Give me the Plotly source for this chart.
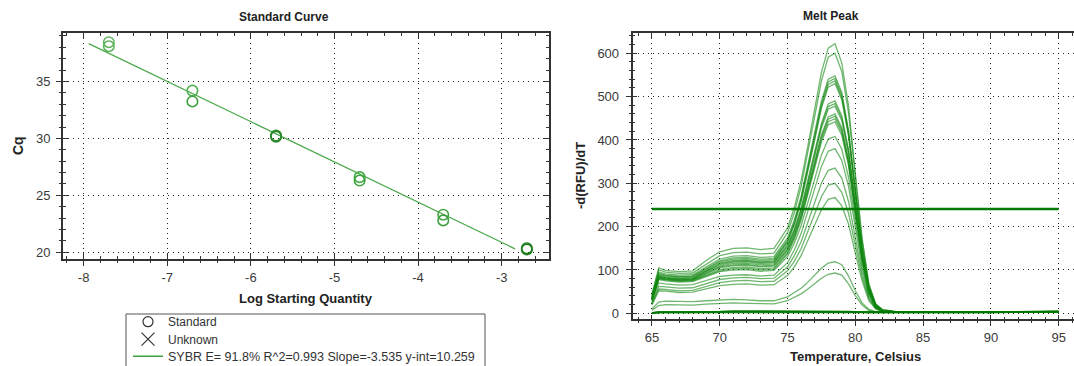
import plotly.graph_objects as go

# ---------------- Standard curve data ----------------
log_quantity = [-7.699, -7.699, -6.699, -6.699, -5.699, -5.699,
                -4.699, -4.699, -3.699, -3.699, -2.699, -2.699]
cq_values = [38.45, 38.1, 34.2, 33.25, 30.25, 30.15,
             26.6, 26.3, 23.3, 22.8, 20.35, 20.25]
point_colors = ["#62b862", "#5cb35c", "#55b055", "#3f9f3f", "#2e8b2e", "#2a872a",
                "#48aa48", "#3da33d", "#46a846", "#3f9f3f", "#1f7f1f", "#1f7f1f"]
fit_slope = -3.535
fit_intercept = 10.259
fit_x_span = [-7.94, -2.84]
std_x_ticks = [-8, -7, -6, -5, -4, -3]
std_x_ticktext = ["-8", "-7", "-6", "-5", "-4", "-3"]
std_y_ticks = [20, 25, 30, 35]
legend_fit_text = "SYBR\u00a0E= 91.8% R^2=0.993 Slope=-3.535 y-int=10.259"

# ---------------- Melt peak data ----------------
temps = [65, 65.5, 66, 67, 68, 69, 70, 71, 72, 73, 74, 75, 75.5, 76, 76.5,
         77, 77.5, 78, 78.5, 79, 79.5, 80, 80.5, 81, 81.5, 82, 83, 86, 90, 95]

curve_01 = [45, 105, 99, 96, 98, 122, 142, 150, 151, 147, 150, 197, 244, 306, 386,
            471, 556, 612, 622, 578, 479, 323, 174, 68, 22, 9, 4, 3, 3, 3]
curve_02 = [42, 100, 95, 92, 93, 114, 133, 140, 141, 137, 139, 186, 232, 292, 370,
            453, 536, 591, 600, 558, 462, 312, 168, 66, 21, 8, 4, 3, 2, 3]
curve_03 = [40, 95, 91, 88, 89, 108, 125, 132, 133, 129, 131, 174, 215, 269, 340,
            415, 490, 540, 548, 510, 422, 285, 153, 60, 19, 7, 3, 2, 2, 2]
curve_04 = [38, 92, 88, 85, 86, 104, 121, 128, 129, 125, 127, 169, 211, 265, 335,
            410, 484, 534, 542, 504, 417, 282, 152, 60, 19, 7, 3, 2, 2, 2]
curve_05 = [37, 90, 87, 84, 85, 102, 119, 125, 126, 122, 124, 166, 207, 261, 330,
            404, 478, 528, 536, 498, 413, 279, 150, 59, 19, 7, 3, 2, 2, 2]
curve_06 = [36, 88, 85, 82, 83, 100, 116, 122, 123, 119, 121, 163, 204, 257, 326,
            399, 473, 522, 530, 493, 408, 276, 148, 58, 19, 7, 3, 2, 2, 2]
curve_07 = [35, 86, 83, 80, 81, 98, 114, 120, 121, 117, 119, 157, 194, 242, 305,
            372, 438, 483, 490, 456, 377, 255, 137, 54, 17, 6, 3, 2, 2, 2]
curve_08 = [34, 85, 82, 79, 80, 97, 112, 118, 119, 115, 117, 155, 191, 239, 301,
            367, 433, 477, 484, 450, 373, 252, 136, 53, 17, 6, 3, 2, 2, 2]
curve_09 = [34, 84, 81, 78, 79, 95, 109, 115, 116, 112, 114, 151, 188, 235, 297,
            362, 427, 471, 478, 445, 368, 249, 134, 53, 17, 6, 3, 2, 2, 2]
curve_10 = [33, 83, 80, 77, 78, 93, 107, 112, 113, 109, 111, 147, 182, 227, 286,
            349, 411, 453, 460, 428, 354, 239, 129, 51, 16, 6, 3, 2, 2, 2]
curve_11 = [32, 82, 79, 76, 77, 91, 105, 110, 111, 107, 109, 145, 179, 224, 283,
            345, 407, 448, 455, 423, 350, 237, 127, 50, 16, 6, 3, 2, 2, 2]
curve_12 = [31, 80, 78, 75, 76, 89, 101, 106, 107, 103, 105, 140, 175, 219, 278,
            339, 401, 442, 449, 418, 346, 233, 126, 49, 16, 6, 3, 2, 2, 2]
curve_13 = [30, 80, 77, 74, 75, 87, 98, 103, 104, 100, 102, 137, 171, 215, 273,
            334, 395, 435, 442, 411, 340, 230, 124, 49, 15, 6, 3, 2, 2, 2]
curve_14 = [29, 78, 75, 72, 73, 85, 96, 100, 101, 97, 99, 131, 162, 202, 254,
            309, 365, 402, 408, 379, 314, 212, 114, 45, 14, 5, 3, 2, 2, 2]
curve_15 = [26, 70, 68, 65, 66, 75, 85, 88, 89, 86, 88, 117, 146, 184, 234,
            287, 339, 374, 380, 353, 293, 198, 106, 42, 13, 5, 3, 2, 2, 2]
curve_16 = [23, 62, 61, 58, 59, 69, 78, 82, 83, 80, 81, 107, 133, 165, 209,
            254, 300, 330, 335, 312, 258, 174, 94, 37, 12, 5, 3, 2, 2, 2]
curve_17 = [21, 56, 55, 52, 53, 62, 71, 75, 76, 73, 74, 98, 120, 149, 188,
            228, 269, 296, 300, 279, 231, 156, 84, 33, 11, 4, 3, 2, 2, 2]
curve_18 = [19, 52, 51, 48, 49, 57, 64, 67, 68, 65, 66, 87, 107, 133, 167,
            203, 239, 263, 267, 248, 206, 139, 75, 29, 10, 4, 3, 2, 2, 2]
curve_19 = [10, 26, 28, 27, 27, 29, 31, 32, 31, 29, 29, 38, 48, 58, 72,
            88, 104, 116, 119, 112, 86, 52, 24, 9, 4, 3, 2, 2, 2, 2]
curve_20 = [7, 18, 20, 19, 19, 21, 23, 24, 23, 22, 22, 29, 37, 45, 56,
            69, 81, 90, 93, 88, 68, 41, 19, 7, 3, 2, 2, 2, 2, 2]
curve_21 = [1, 3, 3, 3, 3, 4, 4, 5, 5, 4, 4, 4, 4, 4, 4,
            4, 4, 4, 4, 4, 4, 3, 3, 3, 3, 3, 3, 2, 2, 3]
curve_22 = [1, 2, 2, 2, 2, 3, 3, 4, 4, 3, 3, 3, 3, 3, 3,
            3, 3, 3, 3, 3, 3, 3, 3, 2, 2, 2, 2, 2, 2, 4]
curve_23 = [0, 2, 2, 2, 2, 2, 3, 3, 3, 3, 3, 3, 3, 3, 3,
            3, 3, 3, 3, 3, 2, 2, 2, 2, 2, 2, 2, 2, 2, 5]

peak_curves = [curve_01, curve_02, curve_03, curve_04, curve_05, curve_06, curve_07,
               curve_08, curve_09, curve_10, curve_11, curve_12, curve_13, curve_14,
               curve_15, curve_16, curve_17, curve_18, curve_19, curve_20]
flat_curves = [curve_21, curve_22, curve_23]
threshold = 240.7
threshold_span = [65, 95]
melt_x_ticks = [65, 70, 75, 80, 85, 90, 95]
melt_y_ticks = [0, 100, 200, 300, 400, 500, 600]

# ---------------- styling ----------------
FONT = "Liberation Sans, Arial, sans-serif"
AX = "#333333"
TICKFONT = dict(family=FONT, size=13, color="#3a3a3a")
GRIDDASH = "1px,4px"

W, H = 1074, 366
left_dom_x = [63 / W, 548.5 / W]
left_dom_y = [1 - 259 / H, 1 - 33 / H]
right_dom_x = [632.7 / W, 1.0]
right_dom_y = [1 - 319.3 / H, 1 - 33 / H]
left_xr = [-8.247, -2.44]
left_yr = [19.41, 39.26]
right_xr = [63.58, 96.13]
right_yr = [-13.8, 646.8]

# legend box (pixels) and row centres
LEG_BOX = (126, 314, 485, 372)
LEG_ROWS = [321.7, 339.2, 356.7]
LEG_X = 128

fig = go.Figure()

# fit line
fit_y = [fit_intercept + fit_slope * v for v in fit_x_span]
fig.add_trace(go.Scatter(x=fit_x_span, y=fit_y, mode="lines",
                         line=dict(color="#4aa84a", width=1.2),
                         showlegend=False, hoverinfo="skip", xaxis="x", yaxis="y"))
# standards
fig.add_trace(go.Scatter(x=log_quantity, y=cq_values, mode="markers",
                         marker=dict(symbol="circle-open", size=10.5,
                                     color=point_colors, line=dict(width=1.6)),
                         showlegend=False, xaxis="x", yaxis="y"))

# legend entries, one legend per row so the rows sit close together
fig.add_trace(go.Scatter(x=[None], y=[None], mode="markers", name="Standard",
                         legend="legend",
                         marker=dict(symbol="circle-open", size=10, color="#333",
                                     line=dict(width=1.2)), xaxis="x", yaxis="y"))
fig.add_trace(go.Scatter(x=[None], y=[None], mode="markers", name="Unknown",
                         legend="legend2",
                         marker=dict(symbol="x-thin-open", size=13, color="#333",
                                     line=dict(width=1.2)), xaxis="x", yaxis="y"))
fig.add_trace(go.Scatter(x=[None], y=[None], mode="lines", name=legend_fit_text,
                         legend="legend3",
                         line=dict(color="#3f9f3f", width=1.5), xaxis="x", yaxis="y"))

# melt curves
for c in peak_curves:
    fig.add_trace(go.Scatter(x=temps, y=c, mode="lines",
                             line=dict(color="rgba(16,135,16,0.6)", width=1.3),
                             showlegend=False, hoverinfo="skip", xaxis="x2", yaxis="y2"))
for c in flat_curves:
    fig.add_trace(go.Scatter(x=temps, y=c, mode="lines",
                             line=dict(color="rgba(0,120,0,0.85)", width=1.8),
                             showlegend=False, hoverinfo="skip", xaxis="x2", yaxis="y2"))
fig.add_trace(go.Scatter(x=threshold_span, y=[threshold, threshold], mode="lines",
                         line=dict(color="#007a00", width=2.5),
                         showlegend=False, hoverinfo="skip", xaxis="x2", yaxis="y2"))

# empty traces so the overlaid label axes are drawn
for xa, ya in (("x3", "y3"), ("x4", "y4")):
    fig.add_trace(go.Scatter(x=[None], y=[None], mode="lines", showlegend=False,
                             hoverinfo="skip", xaxis=xa, yaxis=ya))


def frame_axis(dom, rng, anchor, tickvals, minor_dtick, minor_tick0, mirror):
    return dict(domain=dom, range=rng, anchor=anchor, showline=True, linecolor=AX,
                linewidth=1.5, mirror=mirror, ticks="inside", ticklen=5, tickwidth=1.3,
                tickcolor=AX, tickvals=tickvals, showticklabels=False,
                showgrid=True, gridcolor="#222", gridwidth=1, griddash=GRIDDASH,
                zeroline=False, automargin=False,
                minor=dict(ticks="inside", ticklen=3, tickwidth=1, tickcolor=AX,
                           dtick=minor_dtick, tick0=minor_tick0, showgrid=False))


def label_axis(base, anchor, side, rng, tickvals, ticktext, minor_dtick, minor_tick0,
               standoff=0):
    return dict(overlaying=base, anchor=anchor, side=side, range=rng,
                showline=False, ticks="outside", ticklen=6, tickwidth=1.3, tickcolor=AX,
                tickvals=tickvals, ticktext=ticktext, tickfont=TICKFONT,
                ticklabelstandoff=standoff,
                showgrid=False, zeroline=False, automargin=False,
                minor=dict(ticks="outside", ticklen=3, tickwidth=1, tickcolor=AX,
                           dtick=minor_dtick, tick0=minor_tick0, showgrid=False))


def row_legend(row_y, size=12):
    return dict(x=LEG_X / W, y=1 - row_y / H, xanchor="left", yanchor="middle",
                bgcolor="rgba(0,0,0,0)", borderwidth=0,
                font=dict(family=FONT, size=size, color="#333"))


fig.update_layout(
    width=W, height=H, margin=dict(l=0, r=0, t=0, b=0, autoexpand=False),
    paper_bgcolor="white", plot_bgcolor="white",
    font=dict(family=FONT, size=12, color="#333"),
    xaxis=frame_axis(left_dom_x, left_xr, "y", std_x_ticks, 0.2, -8, "allticks"),
    yaxis=frame_axis(left_dom_y, left_yr, "x", std_y_ticks, 1, 20, "allticks"),
    xaxis2=frame_axis(right_dom_x, right_xr, "y2", melt_x_ticks, 1, 65, "allticks"),
    yaxis2=frame_axis(right_dom_y, right_yr, "x2", melt_y_ticks, 20, 0, False),
    xaxis3=label_axis("x", "y", "bottom", left_xr, std_x_ticks, std_x_ticktext, 0.2, -8),
    yaxis3=label_axis("y", "x", "left", left_yr, std_y_ticks,
                      [str(v) for v in std_y_ticks], 1, 20, standoff=3),
    xaxis4=label_axis("x2", "y2", "bottom", right_xr, melt_x_ticks,
                      [str(v) for v in melt_x_ticks], 1, 65),
    yaxis4=label_axis("y2", "x2", "left", right_yr, melt_y_ticks,
                      [str(v) for v in melt_y_ticks], 20, 0, standoff=4),
    legend=row_legend(LEG_ROWS[0]),
    legend2=row_legend(LEG_ROWS[1]),
    legend3=row_legend(LEG_ROWS[2], size=12.5),
)

x0, y0, x1, y1 = LEG_BOX
fig.add_shape(type="rect", xref="paper", yref="paper",
              x0=x0 / W, x1=x1 / W, y0=1 - y1 / H, y1=1 - y0 / H,
              line=dict(color="#555", width=1), fillcolor="white", layer="below")

titles = [
    dict(text="<b>Standard Curve</b>", x=284, y=17, size=12, angle=0),
    dict(text="<b>Melt Peak</b>", x=831, y=16, size=12, angle=0),
    dict(text="<b>Cq</b>", x=18, y=146, size=14, angle=-90),
    dict(text="<b>Log Starting Quantity</b>", x=306, y=298, size=13, angle=0),
    dict(text="<b>-d(RFU)/dT</b>", x=580, y=176, size=13, angle=-90),
    dict(text="<b>Temperature, Celsius</b>", x=855, y=356, size=13, angle=0),
]
for t in titles:
    fig.add_annotation(text=t["text"], x=t["x"] / W, y=1 - t["y"] / H,
                       xref="paper", yref="paper", xanchor="center", yanchor="middle",
                       showarrow=False, textangle=t["angle"],
                       font=dict(family=FONT, size=t["size"], color="#222"))

fig.write_html("out.html")
